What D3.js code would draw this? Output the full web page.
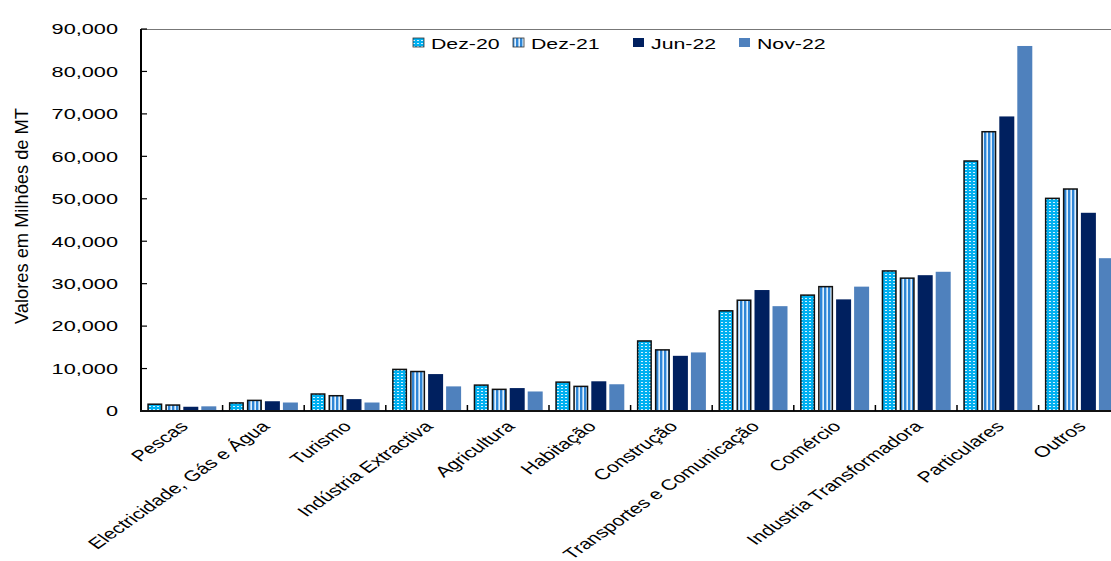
<!DOCTYPE html>
<html><head><meta charset="utf-8">
<script src="https://cdn.jsdelivr.net/npm/d3@7"></script>
<style>html,body{margin:0;padding:0;background:#fff;overflow:hidden}svg{display:block}text{font-family:"Liberation Sans",Arial,sans-serif;fill:#000}</style>
</head><body>
<svg id="c" width="1111" height="561"></svg>
<script>
const categories = ["Pescas","Electricidade, Gás e Água","Turismo","Indústria Extractiva","Agricultura","Habitação","Construção","Transportes e Comunicação","Comércio","Industria Transformadora","Particulares","Outros"];
const seriesNames = ["Dez-20","Dez-21","Jun-22","Nov-22"];
const dez20 = [1600, 1900, 4000, 9800, 6100, 6800, 16500, 23600, 27300, 33000, 58900, 50100];
const dez21 = [1400, 2500, 3600, 9300, 5100, 5800, 14400, 26100, 29300, 31300, 65800, 52300];
const jun22 = [1000, 2300, 2800, 8700, 5400, 7000, 13000, 28500, 26300, 32000, 69400, 46700];
const nov22 = [1100, 2000, 2000, 5800, 4600, 6300, 13800, 24700, 29300, 32800, 86000, 36000];
const yTicks = [0,10000,20000,30000,40000,50000,60000,70000,80000,90000];
const seriesValues = [dez20, dez21, jun22, nov22];

(function(){
const SX = 1.42; // horizontal stretch of the text
const svg = d3.select("#c");
const defs = svg.append("defs");
const p1 = defs.append("pattern").attr("id","pDots").attr("patternUnits","userSpaceOnUse").attr("width",4).attr("height",3);
p1.append("rect").attr("width",4).attr("height",3).attr("fill","#00B0F0");
p1.append("rect").attr("x",1).attr("y",1).attr("width",2).attr("height",1).attr("fill","#D4F1FF");
const p2 = defs.append("pattern").attr("id","pStripes").attr("patternUnits","userSpaceOnUse").attr("width",4).attr("height",4);
p2.append("rect").attr("width",4).attr("height",4).attr("fill","#E3F0FB");
p2.append("rect").attr("x",0).attr("width",2).attr("height",4).attr("fill","#2F86D6");
p2.append("rect").attr("x",2).attr("width",1).attr("height",4).attr("fill","#9CCBF2");

const fills = ["url(#pDots)","url(#pStripes)","#00205F","#4F81BD"];
const strokes = ["#111","#111","none","none"];

const pLeft = 141, pTop = 29, pBottom = 411;
const x0 = d3.scaleBand().domain(categories).range([pLeft, pLeft + 81.6*12]).paddingInner(0).paddingOuter(0);
const x1 = d3.scaleBand().domain(seriesNames).range([0, x0.bandwidth()]).paddingInner(0.1667).paddingOuter(0.35);
const y = d3.scaleLinear().domain([0,90000]).range([pBottom, pTop]);

svg.append("line").attr("x1",pLeft).attr("x2",1111).attr("y1",pTop+0.5).attr("y2",pTop+0.5).attr("stroke","#777").attr("stroke-width",1.2);

const g = svg.append("g");
seriesNames.forEach((s,si)=>{
  g.selectAll(null).data(categories).enter().append("rect")
    .attr("x", c => x0(c) + x1(s) + (si<2?0.75:0))
    .attr("y", (c,i) => y(seriesValues[si][i]))
    .attr("width", x1.bandwidth() - (si<2?1.5:0))
    .attr("height", (c,i) => pBottom - y(seriesValues[si][i]))
    .attr("fill", fills[si])
    .attr("stroke", strokes[si])
    .attr("stroke-width", si<2?1.5:0);
});

const yAxis = svg.append("g");
yAxis.append("line").attr("x1",pLeft).attr("x2",pLeft).attr("y1",pTop).attr("y2",pBottom+1).attr("stroke","#000").attr("stroke-width",2);
yAxis.selectAll("line.t").data(yTicks).enter().append("line").attr("class","t")
  .attr("x1",pLeft).attr("x2",pLeft+6).attr("y1",d=>y(d)).attr("y2",d=>y(d)).attr("stroke","#000").attr("stroke-width",1.2);
const fmt = d3.format(",");
yAxis.selectAll("text").data(yTicks).enter().append("text")
  .attr("transform", d=>`translate(118,${y(d)}) scale(${SX},1)`)
  .attr("text-anchor","end").attr("dy","0.35em").style("font-size","15.3px").text(d=>fmt(d));

svg.append("line").attr("x1",pLeft-1).attr("x2",1111).attr("y1",pBottom).attr("y2",pBottom).attr("stroke","#111").attr("stroke-width",2);
svg.selectAll("line.xt").data(categories.slice(1)).enter().append("line").attr("class","xt")
  .attr("x1",c=>x0(c)).attr("x2",c=>x0(c)).attr("y1",pBottom).attr("y2",pBottom-6).attr("stroke","#000").attr("stroke-width",1.5);
svg.selectAll("text.xl").data(categories).enter().append("text").attr("class","xl")
  .attr("transform", c=>`translate(${x0(c)+x0.bandwidth()/2-3},${pBottom+9}) scale(${SX},1) rotate(-45)`)
  .attr("text-anchor","end").attr("dy","0.7em").style("font-size","15px").text(c=>c);

svg.append("text").attr("transform",`translate(28,216) scale(1.0,1) rotate(-90)`)
  .attr("text-anchor","middle").style("font-size","18.5px").attr("textLength",216).attr("lengthAdjust","spacingAndGlyphs").text("Valores em Milhões de MT");

const legendX = [413, 513, 633, 739];
const lg = svg.append("g");
seriesNames.forEach((s,i)=>{
  lg.append("rect").attr("x",legendX[i]).attr("y",38).attr("width",11).attr("height",9).attr("fill",fills[i]).attr("stroke",i<2?"#333":"none").attr("stroke-width",0.8);
  lg.append("text").attr("transform",`translate(${legendX[i]+18},49) scale(${SX},1)`).style("font-size","15px").text(s);
});
})();
</script>
</body></html>
